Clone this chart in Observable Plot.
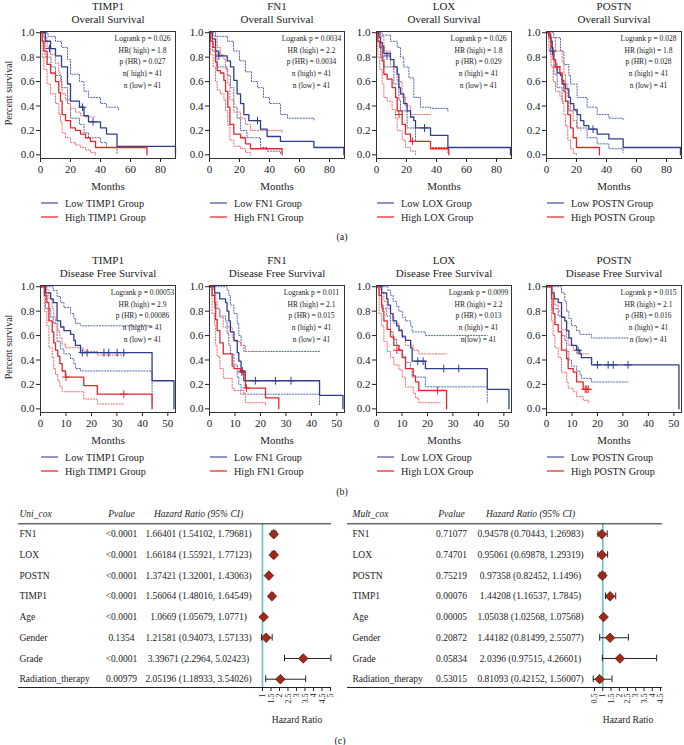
<!DOCTYPE html>
<html><head><meta charset="utf-8">
<script src="https://cdn.jsdelivr.net/npm/d3@7"></script>
<script src="https://cdn.jsdelivr.net/npm/@observablehq/plot@0.6"></script>
<style>
body{margin:0;background:#fff;}
#root{position:relative;width:684px;height:745px;overflow:hidden;font-family:"Liberation Serif","DejaVu Serif",serif;color:#222;background:#fff;}
svg{position:absolute;}
</style></head><body><div id="root"></div>
<script>
// ---------- Panel text ----------
const genes = ["TIMP1","FN1","LOX","POSTN"];
const osLogrank = ["0.026","0.0034","0.026","0.028"];
const osHR = ["1.8","2.2","1.8","1.8"];
const osPHR = ["0.027","0.0034","0.029","0.028"];
const dfsLogrank = ["0.00053","0.011","0.0099","0.015"];
const dfsHR = ["2.9","2.1","2.2","2.1"];
const dfsPHR = ["0.00086","0.015","0.013","0.016"];
const nHigh = [41,41,41,41];
const nLow = [41,41,41,41];
const osTicks = [0,20,40,60,80];
const dfsTicks = [0,10,20,30,40,50];
const survTicks = [0,0.2,0.4,0.6,0.8,1.0];

// ---------- Overall survival: [months, survival] ----------
const timp1OsLow = [[0,1],[3.3,0.93],[6.7,0.87],[10,0.81],[14,0.72],[18,0.58],[20,0.44],[26,0.39],[29,0.32],[32,0.27],[40,0.22],[44,0.17],[51,0.07],[90,0]];
const timp1OsHigh = [[0,1],[1.1,0.93],[2.2,0.85],[4.4,0.74],[6.7,0.67],[10,0.6],[12.2,0.51],[13.3,0.44],[14.4,0.33],[16.7,0.28],[20,0.22],[23.3,0.2],[26.7,0.17],[30,0.14],[33.3,0.11],[36.7,0.06],[71,0]];
const timp1OsLowUp = [[0,1],[5,0.97],[10,0.93],[14,0.88],[18,0.78],[20,0.66],[26,0.6],[29,0.52],[32,0.47],[40,0.42],[44,0.39],[52,0.36]];
const timp1OsLowLo = [[0,1],[3,0.8],[7,0.72],[10,0.65],[14,0.55],[18,0.42],[20,0.3],[26,0.25],[29,0.18],[32,0.14],[40,0.1],[44,0.06],[51,0.01]];
const timp1OsHighUp = [[0,1],[2,0.96],[4.4,0.88],[6.7,0.82],[10,0.75],[12.2,0.67],[13.3,0.6],[14.4,0.5],[16.7,0.45],[20,0.38],[23.3,0.35],[26.7,0.32],[30,0.31],[36.7,0.31]];
const timp1OsHighLo = [[0,1],[1.1,0.8],[2.2,0.7],[4.4,0.58],[6.7,0.5],[10,0.42],[12.2,0.33],[13.3,0.27],[14.4,0.18],[16.7,0.14],[20,0.1],[23.3,0.08],[26.7,0.06],[30,0.04],[33.3,0.02],[36.7,0]];
const timp1OsLowCens = [[6,0.87],[28,0.39],[35,0.27]];
const timp1OsHighCens = [];

const fn1OsLow = [[0,1],[1.8,0.95],[4,0.85],[6.2,0.81],[11.8,0.77],[14,0.72],[16.2,0.61],[18.4,0.5],[20.7,0.42],[22.9,0.33],[26.2,0.28],[34,0.21],[38.4,0.15],[47.3,0.11],[69.6,0.06],[89.6,0]];
const fn1OsHigh = [[0,1],[0.7,0.93],[2.4,0.88],[4,0.76],[5.1,0.69],[7.3,0.67],[9.6,0.61],[10.7,0.52],[12.2,0.39],[13.6,0.25],[16.2,0.17],[20.7,0.14],[24,0.09],[27.3,0.05],[48.4,0]];
const fn1OsLowUp = [[0,1],[4,0.97],[12,0.93],[16,0.85],[20,0.77],[24,0.68],[28,0.6],[32,0.55],[36,0.47],[40,0.42],[47.3,0.33],[52,0.3],[69.6,0.28]];
const fn1OsLowLo = [[0,1],[2,0.85],[5,0.72],[11.8,0.65],[14,0.55],[16.2,0.39],[18.4,0.3],[20.7,0.2],[25,0.14],[34,0.06],[38.4,0.03],[47.3,0]];
const fn1OsHighUp = [[0,1],[2.4,0.97],[5.1,0.88],[7.3,0.82],[9.6,0.78],[10.7,0.7],[12.2,0.58],[13.6,0.45],[16.2,0.35],[20.7,0.3],[24,0.25],[27.3,0.2],[48.4,0.18]];
const fn1OsHighLo = [[0,1],[0.7,0.82],[2.4,0.72],[4,0.6],[5.1,0.53],[7.3,0.5],[9.6,0.45],[10.7,0.36],[12.2,0.24],[13.6,0.12],[16.2,0.07],[20.7,0.05],[24,0.02],[27.3,0]];
const fn1OsLowCens = [[6.2,0.81],[32,0.28]];
const fn1OsHighCens = [];

const loxOsLow = [[0,1],[1.6,0.96],[2.7,0.92],[3.8,0.89],[4.9,0.83],[9.3,0.78],[11.6,0.72],[13.8,0.66],[14.9,0.55],[16,0.5],[18.2,0.42],[20.4,0.36],[22.7,0.31],[24.9,0.28],[26,0.22],[36,0.16],[47.6,0.06],[89.3,0]];
const loxOsHigh = [[0,1],[0.9,0.93],[2.2,0.88],[3.8,0.77],[4.9,0.66],[7.1,0.62],[10.4,0.55],[12.7,0.47],[13.8,0.36],[17.1,0.25],[19.3,0.17],[22.7,0.11],[36,0.05],[48.2,0]];
const loxOsLowUp = [[0,1],[3.8,0.98],[9.3,0.93],[13.8,0.88],[16,0.8],[18.2,0.72],[21.6,0.63],[24.9,0.47],[29.3,0.39],[36,0.38],[47.6,0.35]];
const loxOsLowLo = [[0,1],[2.7,0.8],[4.9,0.72],[11.6,0.58],[14.9,0.45],[16,0.36],[20.4,0.22],[26,0.11],[36,0.06],[47.6,0.02]];
const loxOsHighUp = [[0,1],[2.2,0.97],[4.9,0.85],[9.3,0.72],[13.8,0.6],[17.1,0.47],[19.3,0.4],[22.7,0.33],[36,0.32]];
const loxOsHighLo = [[0,1],[0.9,0.8],[2.2,0.7],[3.8,0.58],[4.9,0.47],[7.1,0.44],[10.4,0.37],[12.7,0.3],[13.8,0.2],[17.1,0.12],[19.3,0.06],[22.7,0.03],[26,0]];
const loxOsLowCens = [[7,0.81],[32,0.22]];
const loxOsHighCens = [[15,0.33],[24,0.11]];

const postnOsLow = [[0,1],[1.6,0.98],[2.7,0.93],[3.8,0.85],[4.9,0.78],[6,0.72],[7.1,0.67],[9.3,0.65],[10.4,0.58],[12.7,0.54],[14.9,0.47],[16,0.42],[18.2,0.37],[20.4,0.33],[22.7,0.28],[24.9,0.24],[28.2,0.21],[33.8,0.17],[41.6,0.13],[51.1,0.06],[89.3,0]];
const postnOsHigh = [[0,1],[1.6,0.96],[3.1,0.88],[4.4,0.78],[6,0.72],[8.9,0.67],[10.4,0.61],[11.6,0.52],[12.7,0.44],[14.2,0.33],[16,0.22],[17.8,0.14],[20,0.06],[35.3,0]];
const postnOsLowUp = [[0,1],[4.9,0.96],[9.3,0.85],[11.6,0.74],[14.9,0.65],[16,0.58],[20.4,0.47],[27.1,0.39],[33.8,0.33],[41.6,0.3],[51.1,0.29]];
const postnOsLowLo = [[0,1],[2.7,0.82],[4.9,0.66],[7.1,0.55],[10.4,0.44],[14.9,0.36],[20.4,0.22],[27.1,0.14],[33.8,0.09],[41.6,0.05],[51.1,0.02]];
const postnOsHighUp = [[0,1],[3.1,0.96],[6,0.85],[10.4,0.76],[11.6,0.66],[12.7,0.58],[14.2,0.47],[16,0.36],[17.8,0.28],[20,0.22],[22.7,0.2]];
const postnOsHighLo = [[0,1],[1.6,0.86],[3.1,0.72],[4.4,0.6],[6,0.52],[8.9,0.48],[10.4,0.42],[11.6,0.33],[12.7,0.24],[14.2,0.12],[16,0.05],[17.8,0.01],[20,0]];
const postnOsLowCens = [[4,0.85],[31,0.21]];
const postnOsHighCens = [[7,0.72]];

// ---------- Disease free survival: [months, survival] ----------
const timp1DfsLow = [[0,1],[2,0.95],[4,0.9],[5,0.87],[6.5,0.72],[7.9,0.67],[9.2,0.64],[11.8,0.61],[13.1,0.56],[13.7,0.52],[15.7,0.46],[43.8,0.23],[52.4,0]];
const timp1DfsHigh = [[0,1],[1.5,0.93],[2.5,0.87],[3.3,0.72],[4.6,0.63],[5.2,0.54],[5.9,0.48],[6.8,0.43],[7.6,0.37],[8.5,0.31],[9.8,0.26],[17,0.19],[22.3,0.12],[43.8,0]];
const timp1DfsLowUp = [[0,1],[5,0.97],[6.5,0.92],[7.9,0.87],[9.2,0.83],[11.8,0.78],[13.1,0.74],[13.7,0.7],[15.7,0.68],[43.8,0.68]];
const timp1DfsLowLo = [[0,1],[2,0.82],[4,0.75],[5,0.7],[6.5,0.55],[7.9,0.49],[9.2,0.45],[11.8,0.41],[13.1,0.37],[13.7,0.33],[15.7,0.31],[43.8,0.03]];
const timp1DfsHighUp = [[0,1],[2.5,0.97],[3.3,0.9],[4.6,0.82],[5.2,0.75],[5.9,0.7],[6.8,0.64],[7.6,0.58],[8.5,0.53],[9.8,0.5],[17,0.47],[22.3,0.44],[32.7,0.44]];
const timp1DfsHighLo = [[0,1],[1.5,0.8],[2.5,0.68],[3.3,0.5],[4.6,0.42],[5.2,0.33],[5.9,0.28],[6.8,0.23],[7.6,0.18],[8.5,0.14],[17,0.08],[22.3,0.04],[32.7,0.04]];
const timp1DfsLowCens = [[16.4,0.46],[18.3,0.46],[24.9,0.46],[26.8,0.46],[30.1,0.46],[32.7,0.46]];
const timp1DfsHighCens = [[10,0.26],[32.7,0.12]];

const fn1DfsLow = [[0,1],[2,0.95],[4,0.9],[6.3,0.87],[6.9,0.8],[7.6,0.72],[8.2,0.63],[9.6,0.56],[10.9,0.46],[11.5,0.39],[12.4,0.31],[13.5,0.23],[43.2,0.11],[52.4,0]];
const fn1DfsHigh = [[0,1],[1,0.93],[2,0.87],[2.4,0.73],[3,0.64],[4.1,0.54],[5.4,0.45],[8.9,0.35],[9.6,0.33],[12.2,0.3],[14.1,0.17],[22,0.09],[27.2,0]];
const fn1DfsLowUp = [[0,1],[6.9,0.97],[7.6,0.93],[8.2,0.85],[9.6,0.78],[10.9,0.7],[11.5,0.6],[12.4,0.52],[13.5,0.47],[43.2,0.47]];
const fn1DfsLowLo = [[0,1],[2,0.82],[4,0.76],[6.3,0.72],[6.9,0.62],[7.6,0.52],[8.2,0.45],[9.6,0.36],[10.9,0.26],[11.5,0.2],[12.4,0.15],[13.5,0.12],[43.2,0.03]];
const fn1DfsHighUp = [[0,1],[1,0.98],[2,0.95],[2.4,0.88],[3,0.82],[4.1,0.75],[5.4,0.67],[8.9,0.58],[9.6,0.55],[12.2,0.52],[14.1,0.47],[22,0.47]];
const fn1DfsHighLo = [[0,1],[1,0.78],[2,0.68],[2.4,0.52],[3,0.43],[4.1,0.33],[5.4,0.25],[8.9,0.17],[9.6,0.15],[12.2,0.12],[14.1,0.05],[22,0.03]];
const fn1DfsLowCens = [[12.9,0.31],[18,0.23],[25.9,0.23],[32,0.23]];
const fn1DfsHighCens = [[12.7,0.3],[14.5,0.17]];

const loxDfsLow = [[0,1],[2,0.95],[4,0.9],[4.5,0.85],[5.5,0.78],[6.5,0.72],[7.9,0.68],[8.8,0.64],[10.1,0.59],[11.4,0.56],[13.4,0.5],[14,0.39],[19.2,0.33],[43.5,0.16],[52,0]];
const loxDfsHigh = [[0,1],[1,0.93],[2,0.85],[2.5,0.8],[2.9,0.72],[4.2,0.65],[5.5,0.59],[6.8,0.52],[8.8,0.48],[10.1,0.42],[11.4,0.33],[14.4,0.27],[15.3,0.22],[16.6,0.15],[27.5,0]];
const loxDfsLowUp = [[0,1],[4.5,0.97],[5.5,0.93],[6.5,0.88],[7.9,0.84],[8.8,0.8],[10.1,0.75],[11.4,0.72],[13.4,0.68],[14,0.63],[19.2,0.6],[43.5,0.6]];
const loxDfsLowLo = [[0,1],[2,0.82],[4,0.76],[5.5,0.63],[6.5,0.57],[7.9,0.52],[8.8,0.48],[10.1,0.43],[11.4,0.38],[13.4,0.33],[14,0.26],[19.2,0.18],[43.5,0.05]];
const loxDfsHighUp = [[0,1],[1,0.98],[2,0.95],[2.9,0.88],[4.2,0.82],[5.5,0.76],[6.8,0.7],[8.8,0.65],[10.1,0.6],[11.4,0.52],[14.4,0.48],[16.6,0.45],[27.5,0.45]];
const loxDfsHighLo = [[0,1],[1,0.78],[2,0.68],[2.9,0.55],[4.2,0.47],[5.5,0.42],[6.8,0.36],[8.8,0.32],[10.1,0.26],[11.4,0.18],[14.4,0.13],[15.3,0.09],[16.6,0.05],[25,0.05]];
const loxDfsLowCens = [[16.2,0.39],[18.3,0.39],[26.4,0.33],[32.3,0.33]];
const loxDfsHighCens = [[8,0.48],[24,0.15]];

const postnDfsLow = [[0,1],[2,0.95],[3,0.9],[4.6,0.87],[5.9,0.75],[7.2,0.72],[7.9,0.64],[8.8,0.58],[9.8,0.52],[11.8,0.48],[13.1,0.45],[13.7,0.42],[17.7,0.36],[52,0]];
const postnDfsHigh = [[0,1],[2,0.9],[2.6,0.78],[3.3,0.69],[4.6,0.63],[5.9,0.48],[7.9,0.41],[8.5,0.33],[10.5,0.3],[11.8,0.22],[14.4,0.16],[16.6,0.16]];
const postnDfsLowUp = [[0,1],[5.9,0.95],[7.2,0.88],[7.9,0.8],[8.8,0.74],[9.8,0.68],[11.8,0.64],[13.1,0.61],[17.7,0.58],[32,0.58]];
const postnDfsLowLo = [[0,1],[2,0.82],[4.6,0.76],[5.9,0.6],[7.2,0.56],[7.9,0.47],[8.8,0.4],[9.8,0.35],[11.8,0.31],[13.1,0.28],[13.7,0.25],[17.7,0.22],[32,0.22]];
const postnDfsHighUp = [[0,1],[2,0.98],[2.6,0.92],[3.3,0.85],[4.6,0.8],[5.9,0.65],[7.9,0.58],[8.5,0.52],[10.5,0.48],[11.8,0.45],[16.6,0.45]];
const postnDfsHighLo = [[0,1],[2,0.72],[2.6,0.6],[3.3,0.5],[4.6,0.42],[5.9,0.3],[7.9,0.22],[8.5,0.17],[10.5,0.14],[11.8,0.1],[14.4,0.07],[16.6,0.05]];
const postnDfsLowCens = [[12.4,0.48],[20,0.36],[24.2,0.36],[26.2,0.36],[32,0.36]];
const postnDfsHighCens = [[15.2,0.16],[15.8,0.16],[16.4,0.16]];

// ---------- Cox tables ----------
const coxVars = ["FN1","LOX","POSTN","TIMP1","Age","Gender","Grade","Radiation_therapy"];
const uniP = ["<0.0001","<0.0001","<0.0001","<0.0001","<0.0001","0.1354","<0.0001","0.00979"];
const uniHR = [1.66401,1.66184,1.37421,1.56064,1.0669,1.21581,3.39671,2.05196];
const uniLo = [1.54102,1.55921,1.32001,1.48016,1.05679,0.94073,2.2964,1.18933];
const uniHi = [1.79681,1.77123,1.43063,1.64549,1.0771,1.57133,5.02423,3.54026];
const multP = ["0.71077","0.74701","0.75219","0.00076","0.00005","0.20872","0.05834","0.53015"];
const multHR = [0.94578,0.95061,0.97358,1.44208,1.05038,1.44182,2.0396,0.81093];
const multLo = [0.70443,0.69878,0.82452,1.16537,1.02568,0.81499,0.97515,0.42152];
const multHi = [1.26983,1.29319,1.1496,1.7845,1.07568,2.55077,4.26601,1.56007];
const uniTicks = [1,1.5,2,2.5,3,3.5,4,4.5,5];
const multTicks = [0.5,1,1.5,2,2.5,3,3.5,4,4.5];

// ---------- Drawing ----------
const FONT = '"Liberation Serif","DejaVu Serif",serif';
const BLUE = "#2f3d8e", RED = "#e5262b", BLUE_CI = "#5565b3", RED_CI = "#f06868";
const root = document.getElementById("root");
const NS = "http://www.w3.org/2000/svg";
const overlay = document.createElementNS(NS, "svg");
overlay.setAttribute("width", 684); overlay.setAttribute("height", 745);
overlay.style.left = "0px"; overlay.style.top = "0px";
overlay.setAttribute("font-family", FONT);
function txt(s, x, y, o = {}) {
  const t = document.createElementNS(NS, "text");
  t.textContent = s;
  t.setAttribute("x", x); t.setAttribute("y", y);
  t.setAttribute("font-size", o.size || 11);
  t.setAttribute("fill", "#222");
  t.setAttribute("dominant-baseline", "central");
  t.setAttribute("text-anchor", o.anchor || "middle");
  if (o.italic) t.setAttribute("font-style", "italic");
  if (o.rotate) t.setAttribute("transform", `rotate(${o.rotate},${x},${y})`);
  overlay.appendChild(t);
}
function legendLine(x, y, color) {
  const l = document.createElementNS(NS, "line");
  l.setAttribute("x1", x); l.setAttribute("x2", x + 17);
  l.setAttribute("y1", y); l.setAttribute("y2", y);
  l.setAttribute("stroke", color); l.setAttribute("stroke-width", 1.6);
  overlay.appendChild(l);
}

const frameLefts = [40, 209, 376, 546];
const osSets = [
  [timp1OsLow, timp1OsHigh, timp1OsLowUp, timp1OsLowLo, timp1OsHighUp, timp1OsHighLo, timp1OsLowCens, timp1OsHighCens],
  [fn1OsLow, fn1OsHigh, fn1OsLowUp, fn1OsLowLo, fn1OsHighUp, fn1OsHighLo, fn1OsLowCens, fn1OsHighCens],
  [loxOsLow, loxOsHigh, loxOsLowUp, loxOsLowLo, loxOsHighUp, loxOsHighLo, loxOsLowCens, loxOsHighCens],
  [postnOsLow, postnOsHigh, postnOsLowUp, postnOsLowLo, postnOsHighUp, postnOsHighLo, postnOsLowCens, postnOsHighCens]
];
const dfsSets = [
  [timp1DfsLow, timp1DfsHigh, timp1DfsLowUp, timp1DfsLowLo, timp1DfsHighUp, timp1DfsHighLo, timp1DfsLowCens, timp1DfsHighCens],
  [fn1DfsLow, fn1DfsHigh, fn1DfsLowUp, fn1DfsLowLo, fn1DfsHighUp, fn1DfsHighLo, fn1DfsLowCens, fn1DfsHighCens],
  [loxDfsLow, loxDfsHigh, loxDfsLowUp, loxDfsLowLo, loxDfsHighUp, loxDfsHighLo, loxDfsLowCens, loxDfsHighCens],
  [postnDfsLow, postnDfsHigh, postnDfsLowUp, postnDfsLowLo, postnDfsHighUp, postnDfsHighLo, postnDfsLowCens, postnDfsHighCens]
];
const statsText = (row, i) => row === 0
  ? [`Logrank p = ${osLogrank[i]}`, i === 0 ? `HR( high) = ${osHR[i]}` : `HR (high) = ${osHR[i]}`, `p (HR) = ${osPHR[i]}`, i === 0 ? `n( high) = ${nHigh[i]}` : `n (high) = ${nHigh[i]}`, `n (low) = ${nLow[i]}`]
  : [`Logrank p = ${dfsLogrank[i]}`, `HR (high) = ${dfsHR[i]}`, `p (HR) = ${dfsPHR[i]}`, `n (high) = ${nHigh[i]}`, i === 2 ? `n(low) = ${nLow[i]}` : `n (low) = ${nLow[i]}`];

function km(row, i) {
  const [low, high, lowUp, lowLo, highUp, highLo, lowC, highC] = (row === 0 ? osSets : dfsSets)[i];
  const X = d => d[0], Y = d => d[1];
  const ci = (data, c) => Plot.line(data, {x: X, y: Y, curve: "step-after", stroke: c, strokeWidth: 1, strokeDasharray: "1.2,1.6"});
  const svg = Plot.plot({
    width: 180, height: 153, marginLeft: 40, marginRight: 5, marginTop: 6, marginBottom: 20,
    style: {fontFamily: FONT, fontSize: "11px", background: "transparent", color: "#222", overflow: "visible"},
    x: {domain: row === 0 ? [0, 90] : [0, 53], ticks: row === 0 ? osTicks : dfsTicks, tickSize: 4, tickPadding: 3, label: null},
    y: {domain: [-0.03, 1.01], ticks: survTicks, tickFormat: d3.format(".1f"), tickSize: 4, tickPadding: 2, label: null},
    marks: [
      ci(lowUp, BLUE_CI), ci(lowLo, BLUE_CI), ci(highUp, RED_CI), ci(highLo, RED_CI),
      Plot.line(low, {x: X, y: Y, curve: "step-after", stroke: BLUE, strokeWidth: 1.3}),
      Plot.line(high, {x: X, y: Y, curve: "step-after", stroke: RED, strokeWidth: 1.3}),
      Plot.dot(lowC, {x: X, y: Y, symbol: "plus", r: 2.6, stroke: BLUE, strokeWidth: 1}),
      Plot.dot(highC, {x: X, y: Y, symbol: "plus", r: 2.6, stroke: RED, strokeWidth: 1}),
      Plot.text([statsText(row, i).join("\n")], {frameAnchor: "top-right", dx: -33, dy: 1, lineAnchor: "top", textAnchor: "middle", fontSize: 7.5, lineHeight: 1.57, fill: "#222"}),
      Plot.frame({stroke: "#333", strokeWidth: 1})
    ]
  });
  const fl = frameLefts[i];
  const top = row === 0 ? 25 : 279;
  svg.style.left = (fl - 40) + "px"; svg.style.top = top + "px";
  root.appendChild(svg);
  const cx = fl + 68;
  const off = row === 0 ? 0 : 254;
  txt(genes[i], cx, 6 + off, {size: 11});
  txt(row === 0 ? "Overall Survival" : "Disease Free Survival", cx, 19 + off, {size: 11});
  txt("Months", cx, 186 + off, {size: 11});
  legendLine(fl + 1, 203 + off, "#7479bd");
  legendLine(fl + 1, 217 + off, "#ef5656");
  txt(`Low ${genes[i]} Group`, fl + 25, 203 + off, {size: 10.2, anchor: "start"});
  txt(`High ${genes[i]} Group`, fl + 25, 217 + off, {size: 10.2, anchor: "start"});
  if (i === 0) txt("Percent survival", 8, 93 + off, {size: 10, rotate: -90});
}
for (let r = 0; r < 2; r++) for (let i = 0; i < 4; i++) km(r, i);
txt("(a)", 342, 236, {size: 10});
txt("(b)", 342, 491, {size: 10});
txt("(c)", 340, 740, {size: 10});

function forest(cfg) {
  const rows = coxVars.map((v, k) => ({i: k + 1, name: v, p: cfg.p[k], hr: cfg.hr[k], lo: cfg.lo[k], hi: cfg.hi[k]}));
  const svg = Plot.plot({
    width: cfg.width, height: 235, marginTop: 7.6, marginBottom: 43, marginLeft: cfg.ml, marginRight: cfg.mr,
    style: {fontFamily: FONT, fontSize: "8px", background: "transparent", color: "#222", overflow: "visible"},
    x: {domain: cfg.domain, ticks: cfg.ticks, tickFormat: d => String(d), tickRotate: -90, tickSize: 4, tickPadding: 2, label: null},
    y: {domain: [-0.5, 8.4], reverse: true, axis: null},
    marks: [
      Plot.ruleX([1], {y1: 0.5, y2: 8.4, stroke: "#6cbfca", strokeWidth: 1.6}),
      Plot.ruleY([0.5, 8.4], {stroke: "#222", strokeWidth: 1}),
      Plot.text([cfg.title], {y: 0, frameAnchor: "left", dx: cfg.dxName, textAnchor: "start", fontStyle: "italic", fontSize: 9.5}),
      Plot.text(["Pvalue"], {y: 0, frameAnchor: "left", dx: cfg.dxP, textAnchor: "middle", fontStyle: "italic", fontSize: 9.5}),
      Plot.text(["Hazard Ratio (95% CI)"], {y: 0, frameAnchor: "left", dx: cfg.dxHR, textAnchor: "middle", fontStyle: "italic", fontSize: 9.5}),
      Plot.text(rows, {y: "i", text: "name", frameAnchor: "left", dx: cfg.dxName, textAnchor: "start", fontSize: 9.5}),
      Plot.text(rows, {y: "i", text: "p", frameAnchor: "left", dx: cfg.dxP, textAnchor: "middle", fontSize: 9.5}),
      Plot.text(rows, {y: "i", text: d => `${d.hr} (${d.lo}, ${d.hi})`, frameAnchor: "left", dx: cfg.dxHR, textAnchor: "middle", fontSize: 9.5}),
      Plot.ruleY(rows, {y: "i", x1: "lo", x2: "hi", stroke: "#222", strokeWidth: 1}),
      Plot.ruleX(rows, {x: "lo", y1: d => d.i - 0.16, y2: d => d.i + 0.16, stroke: "#222"}),
      Plot.ruleX(rows, {x: "hi", y1: d => d.i - 0.16, y2: d => d.i + 0.16, stroke: "#222"}),
      Plot.dot(rows, {x: "hr", y: "i", symbol: "diamond2", r: 4.3, fill: "#a0291c", stroke: "#5e160d", strokeWidth: 0.8})
    ]
  });
  svg.style.left = cfg.left + "px"; svg.style.top = "495px";
  root.appendChild(svg);
}
forest({left: 0, width: 340, ml: 18, mr: 9, domain: [-13.35, 5.06], ticks: uniTicks, title: "Uni_cox",
  p: uniP, hr: uniHR, lo: uniLo, hi: uniHi, dxName: 1, dxP: 103, dxHR: 180});
forest({left: 340, width: 344, ml: 7, mr: 22, domain: [-14.47, 4.62], ticks: multTicks, title: "Mult_cox",
  p: multP, hr: multHR, lo: multLo, hi: multHi, dxName: 5, dxP: 104, dxHR: 183});
txt("Hazard Ratio", 297, 720, {size: 9.5});
txt("Hazard Ratio", 628, 720, {size: 9.5});
root.appendChild(overlay);
</script></body></html>
